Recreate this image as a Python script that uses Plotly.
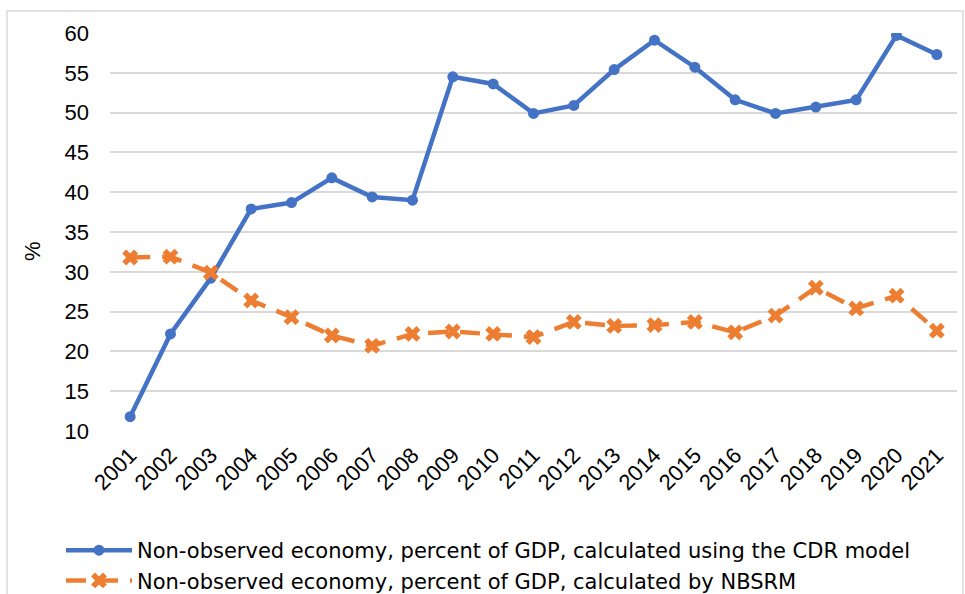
import plotly.graph_objects as go

years = [str(y) for y in range(2001, 2022)]
cdr = [11.8, 22.2, 29.2, 37.9, 38.7, 41.8, 39.4, 39.0, 54.5, 53.6, 49.9, 50.9,
       55.4, 59.1, 55.7, 51.6, 49.9, 50.7, 51.6, 59.7, 57.3]
nbsrm = [31.8, 31.9, 29.9, 26.4, 24.3, 22.0, 20.7, 22.2, 22.5, 22.2, 21.8, 23.7,
         23.2, 23.3, 23.7, 22.4, 24.5, 28.0, 25.4, 27.0, 22.6]
y_ticks = [10, 15, 20, 25, 30, 35, 40, 45, 50, 55, 60]

name1 = "Non-observed economy, percent of GDP, calculated using the CDR model"
name2 = "Non-observed economy, percent of GDP, calculated by NBSRM"

FONT = "Liberation Sans, Arial, sans-serif"
LFONT = "DejaVu Sans, sans-serif"

L, R, T, B = 110, 8, 33, 163
PW = 965 - L - R
PH = 594 - T - B

fig = go.Figure()
fig.add_trace(go.Scatter(
    x=years, y=cdr, name=name1, mode="lines+markers",
    line=dict(color="#4472C4", width=4.5),
    marker=dict(symbol="circle", size=11, color="#4472C4"),
))
fig.add_trace(go.Scatter(
    x=years, y=nbsrm, name=name2, mode="lines+markers",
    line=dict(color="#ED7D31", width=4.5, dash="20px,12px"),
    marker=dict(symbol="x", size=14, color="#ED7D31",
                line=dict(width=0)),
))

fig.update_layout(
    width=965, height=594,
    margin=dict(l=L, r=R, t=T, b=B, autoexpand=False),
    paper_bgcolor="white", plot_bgcolor="white",
    font=dict(family=FONT, size=22, color="black"),
    showlegend=True,
    legend=dict(
        xref="container", yref="container",
        x=61 / 965, y=1 - 530 / 594, xanchor="left", yanchor="top",
        font=dict(family=LFONT, size=21), itemwidth=66, tracegroupgap=0,
        bgcolor="rgba(0,0,0,0)",
    ),
    xaxis=dict(
        type="category", range=[-0.5, 20.5], tickangle=-45,
        showgrid=False, showline=False, ticks="", zeroline=False,
        tickfont=dict(size=22), ticklabelstandoff=6,
    ),
    yaxis=dict(
        range=[10, 60], tickvals=y_ticks, showgrid=True, gridcolor="#D9D9D9",
        gridwidth=1.5, zeroline=False, showline=False, ticks="",
        tickfont=dict(size=22), ticklabelstandoff=20,
    ),
    annotations=[dict(text="%", textangle=-90, showarrow=False,
                      xref="paper", yref="paper",
                      x=(32 - L) / PW, y=(594 - B - 251) / PH,
                      xanchor="center", yanchor="middle",
                      font=dict(size=22))],
    shapes=[dict(type="rect", xref="paper", yref="paper",
                 x0=(7 - L) / PW, x1=(963 - L) / PW,
                 y0=-0.5, y1=1 + (T - 11) / PH,
                 line=dict(color="#D9D9D9", width=1.5), layer="below")],
)

fig.write_html("out.html")
